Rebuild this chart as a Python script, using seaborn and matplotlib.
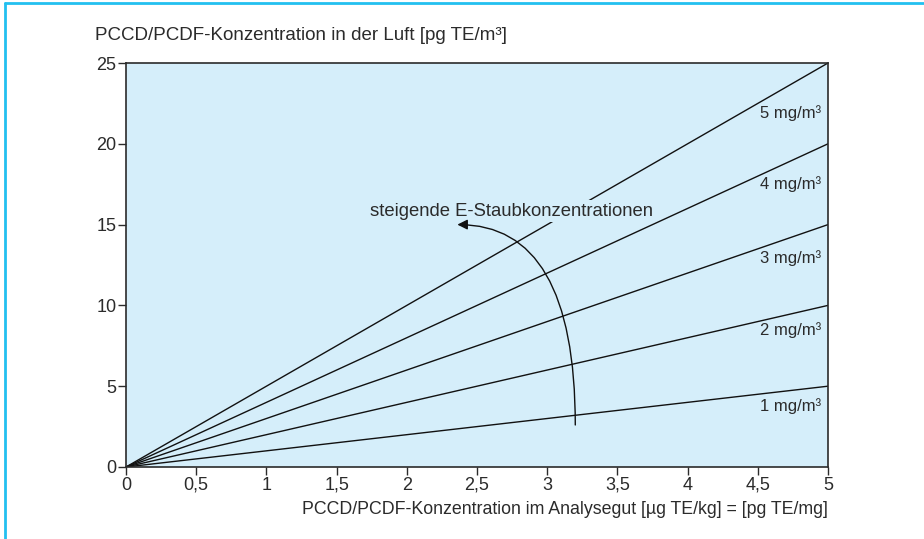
import pandas as pd
import matplotlib.pyplot as plt
import seaborn as sns
from matplotlib.lines import Line2D

# data
dust_levels = [1, 2, 3, 4, 5]                 # mg/m3
x_ends = [0, 5]                                # analysed material, ug TE/kg
y_ends = {1: [0, 5], 2: [0, 10], 3: [0, 15], 4: [0, 20], 5: [0, 25]}
label_y = [3.8, 8.5, 12.9, 17.5, 21.9]
line_labels = ['1 mg/m³', '2 mg/m³', '3 mg/m³', '4 mg/m³', '5 mg/m³']
x_ticks = [0, 0.5, 1, 1.5, 2, 2.5, 3, 3.5, 4, 4.5, 5]
x_ticklabels = ['0', '0,5', '1', '1,5', '2', '2,5', '3', '3,5', '4', '4,5', '5']
y_ticks = [0, 5, 10, 15, 20, 25]
arrow_start = (3.2, 2.6)
arrow_end = (2.36, 15.0)

rows = []
for k in dust_levels:
    for x, y in zip(x_ends, y_ends[k]):
        rows.append({'x': x, 'y': y, 'dust': k})
df = pd.DataFrame(rows)

sns.set_style('white')
plt.rcParams['font.family'] = ['Liberation Sans', 'DejaVu Sans']

bg = '#d5eefa'
dark = '#2b2b2b'

fig = plt.figure(figsize=(9.24, 5.39), dpi=100)
ax = fig.add_axes([0.1364, 0.1336, 0.7597, 0.7495])
ax.set_facecolor(bg)

sns.lineplot(data=df, x='x', y='y', hue='dust', palette=['#111111'] * 5,
             legend=False, linewidth=1.0, ax=ax)

ax.set_xlim(0, 5)
ax.set_ylim(0, 25)
ax.set_xticks(x_ticks)
ax.set_xticklabels(x_ticklabels)
ax.set_yticks(y_ticks)
ax.tick_params(axis='both', direction='out', length=6, width=1.0,
               color=dark, labelcolor=dark, labelsize=13, pad=1,
               bottom=True, left=True)
for s in ax.spines.values():
    s.set_color(dark)
    s.set_linewidth(1.2)
ax.set_xlabel('')
ax.set_ylabel('')

for yy, lab in zip(label_y, line_labels):
    ax.text(4.95, yy, lab, ha='right', va='center', fontsize=12, color=dark)

ax.text(1.74, 15.84, 'steigende E-Staubkonzentrationen', ha='left', va='center',
        fontsize=13.3, color=dark,
        bbox=dict(facecolor=bg, edgecolor='none', pad=1.5), zorder=4)

ax.annotate('', xy=arrow_end, xytext=arrow_start,
            arrowprops=dict(arrowstyle='-|>', color='#111111', lw=1.0,
                            mutation_scale=15,
                            connectionstyle='angle3,angleA=90,angleB=0',
                            shrinkA=0, shrinkB=0), zorder=5)

fig.text(95 / 924, 1 - 35 / 539, 'PCCD/PCDF-Konzentration in der Luft [pg TE/m³]',
         ha='left', va='center', fontsize=13.5, color=dark)
fig.text(828 / 924, 1 - 509 / 539,
         'PCCD/PCDF-Konzentration im Analysegut [µg TE/kg] = [pg TE/mg]',
         ha='right', va='center', fontsize=12.8, color=dark)

# frame on left and top of the figure
fig.add_artist(Line2D([4.5 / 924, 4.5 / 924], [0, 1 - 2.5 / 539], color='#22c0f0',
                      lw=2.0, transform=fig.transFigure))
fig.add_artist(Line2D([4.5 / 924, 1], [1 - 2.5 / 539, 1 - 2.5 / 539], color='#22c0f0',
                      lw=2.0, transform=fig.transFigure))

fig.savefig('out.png', dpi=100)
